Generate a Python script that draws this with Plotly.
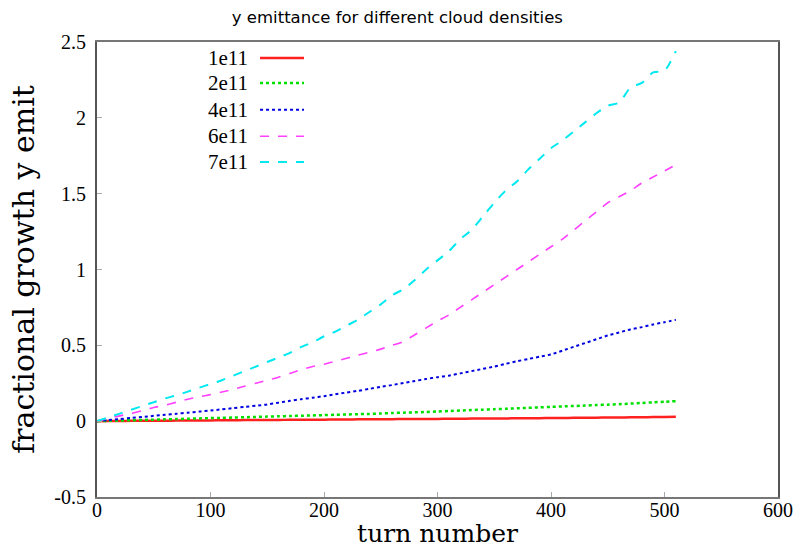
import plotly.graph_objects as go

turns = list(range(0, 511, 10))

emit_1e11 = [0.000, 0.001, 0.001, 0.002, 0.002, 0.003, 0.003, 0.004, 0.004, 0.005,
             0.005, 0.006, 0.006, 0.007, 0.007, 0.008, 0.008, 0.009, 0.009, 0.010,
             0.010, 0.011, 0.011, 0.012, 0.012, 0.013, 0.013, 0.014, 0.014, 0.015,
             0.015, 0.016, 0.016, 0.017, 0.017, 0.018, 0.018, 0.019, 0.019, 0.020,
             0.021, 0.021, 0.022, 0.022, 0.023, 0.024, 0.024, 0.025, 0.026, 0.027,
             0.028, 0.029]

emit_2e11 = [0.000, 0.002, 0.004, 0.006, 0.008, 0.010, 0.012, 0.014, 0.016, 0.018,
             0.020, 0.022, 0.024, 0.026, 0.028, 0.030, 0.032, 0.034, 0.036, 0.038,
             0.040, 0.042, 0.044, 0.046, 0.048, 0.051, 0.054, 0.056, 0.058, 0.061,
             0.064, 0.067, 0.070, 0.073, 0.076, 0.079, 0.082, 0.085, 0.088, 0.091,
             0.094, 0.097, 0.100, 0.103, 0.106, 0.109, 0.112, 0.116, 0.120, 0.124,
             0.128, 0.132]

emit_4e11 = [0.000, 0.007, 0.014, 0.021, 0.028, 0.035, 0.042, 0.049, 0.056, 0.063,
             0.070, 0.078, 0.086, 0.094, 0.102, 0.110, 0.122, 0.134, 0.145, 0.155,
             0.165, 0.177, 0.189, 0.200, 0.213, 0.226, 0.238, 0.252, 0.265, 0.278,
             0.290, 0.300, 0.315, 0.330, 0.345, 0.360, 0.378, 0.395, 0.410, 0.425,
             0.440, 0.465, 0.490, 0.515, 0.540, 0.565, 0.585, 0.605, 0.620, 0.638,
             0.652, 0.668]

emit_6e11 = [0.000, 0.017, 0.035, 0.050, 0.070, 0.090, 0.105, 0.125, 0.145, 0.160,
             0.175, 0.192, 0.210, 0.230, 0.250, 0.270, 0.290, 0.315, 0.340, 0.360,
             0.375, 0.395, 0.415, 0.435, 0.455, 0.475, 0.500, 0.525, 0.570, 0.615,
             0.660, 0.700, 0.750, 0.800, 0.850, 0.900, 0.950, 1.000, 1.050, 1.100,
             1.150, 1.200, 1.260, 1.320, 1.380, 1.440, 1.480, 1.520, 1.570, 1.610,
             1.650, 1.690]

emit_7e11 = [0.000, 0.025, 0.050, 0.075, 0.100, 0.125, 0.150, 0.170, 0.195, 0.220,
             0.245, 0.270, 0.300, 0.330, 0.360, 0.390, 0.420, 0.450, 0.490, 0.520,
             0.560, 0.590, 0.630, 0.670, 0.720, 0.770, 0.830, 0.870, 0.930, 1.000,
             1.060, 1.120, 1.200, 1.260, 1.350, 1.440, 1.520, 1.580, 1.660, 1.730,
             1.800, 1.850, 1.910, 1.970, 2.030, 2.080, 2.100, 2.200, 2.230, 2.300,
             2.310, 2.440]

series_names = ["1e11", "2e11", "4e11", "6e11", "7e11"]
series_values = [emit_1e11, emit_2e11, emit_4e11, emit_6e11, emit_7e11]
series_colors = ["#ff2020", "#00e000", "#0000e0", "#ff40ff", "#00e8f0"]
series_dash = ["solid", "dot", "dot", "dash", "dash"]
series_width = [2.5, 2.5, 2, 1.6, 2]

x_ticks = [0, 100, 200, 300, 400, 500, 600]
y_ticks = [-0.5, 0, 0.5, 1, 1.5, 2, 2.5]
y_tick_labels = ["-0.5", "0", "0.5", "1", "1.5", "2", "2.5"]

fig = go.Figure()
for name, vals, col, dash, w in zip(series_names, series_values, series_colors, series_dash, series_width):
    fig.add_trace(go.Scatter(x=turns, y=vals, mode="lines", name=name,
                             line=dict(color=col, dash=dash, width=w, shape="spline", smoothing=0.6),
                             showlegend=False))

# manual legend (text left, line sample right)
legend_y = [0.965, 0.910, 0.851, 0.793, 0.736]
for name, col, dash, w, ly in zip(series_names, series_colors, series_dash, series_width, legend_y):
    fig.add_annotation(x=0.2247, y=ly, xref="paper", yref="paper", text=name,
                       showarrow=False, xanchor="right", yanchor="middle",
                       font=dict(family="Liberation Serif", size=21, color="#000"))
    fig.add_shape(type="line", xref="paper", yref="paper", x0=0.2394, x1=0.3040,
                  y0=ly, y1=ly, line=dict(color=col, dash=dash, width=w))

fig.update_layout(
    width=811, height=548,
    margin=dict(l=97, r=33, t=42, b=51),
    paper_bgcolor="white", plot_bgcolor="white",
    title=dict(text="y emittance for different cloud densities", x=0.490, xanchor="center",
               y=0.968, yanchor="middle",
               font=dict(family="DejaVu Sans", size=16.5, color="#000")),
    font=dict(family="Liberation Serif", color="#000"),
)
fig.update_xaxes(range=[0, 600], tickvals=x_ticks, ticks="inside", ticklen=5,
                 tickcolor="#aaaaaa", showgrid=False, zeroline=False, automargin=False,
                 showline=True, linecolor="#777777", linewidth=2, mirror=True,
                 ticklabelstandoff=-6,
                 tickfont=dict(family="Liberation Serif", size=20),
                 title=dict(text="turn number", standoff=2,
                            font=dict(family="DejaVu Serif", size=25)))
fig.update_yaxes(range=[-0.5, 2.5], tickvals=y_ticks, ticktext=y_tick_labels,
                 ticks="inside", ticklen=5, tickcolor="#aaaaaa", showgrid=False,
                 zeroline=False, showline=True, linecolor="#555555", linewidth=2,
                 mirror=True, automargin=False, ticklabelstandoff=5,
                 tickfont=dict(family="Liberation Serif", size=20),
                 title=dict(text="fractional growth y emit", standoff=11,
                            font=dict(family="DejaVu Serif", size=30)))

fig.write_html("out.html")
